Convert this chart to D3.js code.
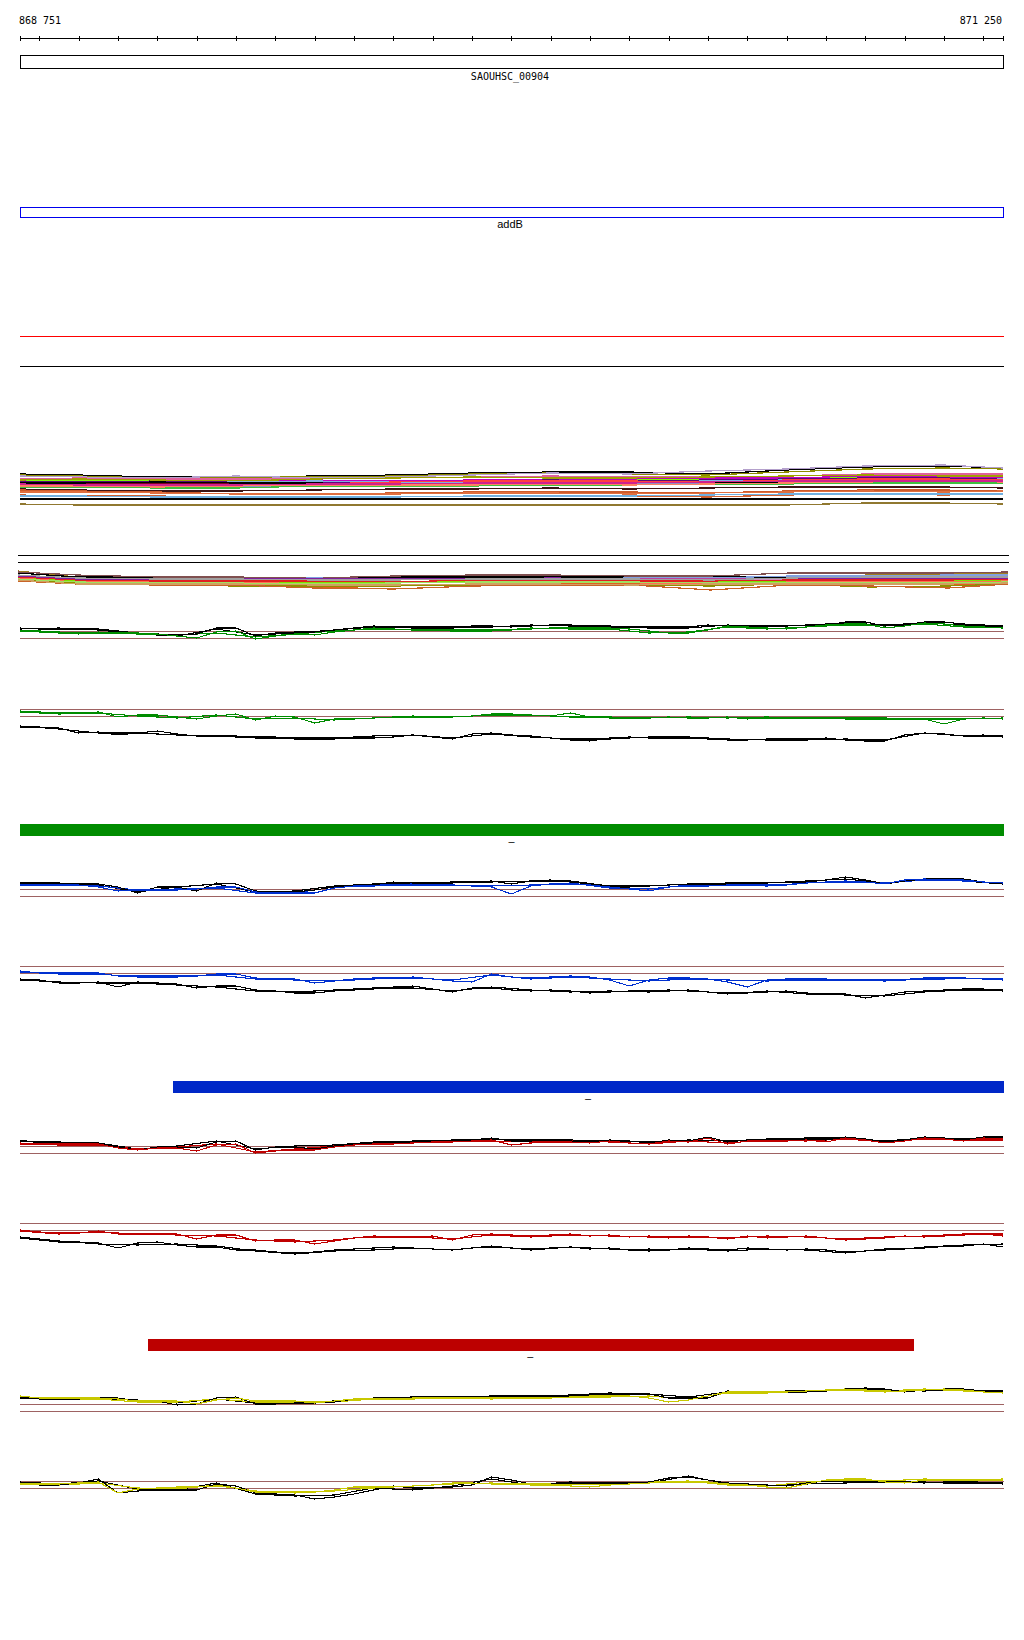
<!DOCTYPE html>
<html><head><meta charset="utf-8">
<script src="https://cdn.jsdelivr.net/npm/d3@7"></script>
<style>body{margin:0;background:#fff}</style>
</head><body><svg id="c" width="1024" height="1640"></svg>
<script>
// ---------------- DATA ----------------
const rangeStart = 868751, rangeEnd = 871250;
const tickPositions = [868800,868900,869000,869100,869200,869300,869400,869500,869600,869700,869800,869900,870000,870100,870200,870300,870400,870500,870600,870700,870800,870900,871000,871100,871200];
const geneTop = {name:"SAOUHSC_00904", start:868751, end:871250};
const geneMid = {name:"addB", start:868751, end:871250};
const featureBars = [
  {name:"–", start:868751, end:871250},
  {name:"–", start:869140, end:871250},
  {name:"–", start:869076, end:871021}
];
const refValues = [0.35, -0.35];

// 50-bp bins (51 points)
const positions = [868751,868800,868850,868900,868950,869000,869050,869100,869150,869200,869250,869300,869350,869400,869450,869500,869550,869600,869650,869700,869750,869800,869850,869900,869950,870000,870050,870100,870150,870200,870250,870300,870350,870400,870450,870500,870550,870600,870650,870700,870750,870800,870850,870900,870950,871000,871050,871100,871150,871200,871250];
// 200-bp bins for the multi-sample bands (14 points)
const bandPositions = [868751,868900,869100,869300,869500,869700,869900,870100,870300,870500,870700,870900,871100,871250];

// ---- green group ----
const greenA_black1 = [0.6,0.5,0.5,0.5,0.5,0.3,0.1,0.0,-0.1,0.0,0.6,0.6,-0.2,0.1,0.2,0.2,0.4,0.6,0.8,0.7,0.7,0.7,0.7,0.8,0.8,0.7,0.8,0.9,0.9,0.8,0.8,0.7,0.7,0.7,0.7,0.9,0.8,0.8,0.8,0.8,0.9,0.9,1.2,1.2,0.8,0.9,1.2,1.2,1.0,0.9,0.8];
const greenA_col1   = [0.3,0.3,0.2,0.0,0.2,0.1,0.1,0.0,-0.2,-0.4,0.2,0.3,-0.5,-0.2,0.0,-0.1,0.2,0.4,0.6,0.5,0.4,0.4,0.4,0.4,0.4,0.4,0.5,0.6,0.6,0.6,0.6,0.5,0.3,0.1,0.1,0.4,0.8,0.7,0.6,0.5,0.7,0.9,1.0,1.0,0.6,0.8,1.1,1.0,0.8,0.7,0.6];
const greenA_black2 = [0.5,0.6,0.4,0.0,-0.2,0.5,-0.1,0.1,0.4,0.7,0.6,0.6,0.7,0.9,0.8,0.7,0.6,0.6,0.9,0.7,0.9,1.1,0.9,1.1,0.9,0.7];
const greenA_col2   = [0.3,0.1,0.1,0.0,-0.1,0.1,-0.3,0.0,0.3,0.5,0.4,0.3,0.3,0.6,0.5,0.5,0.1,0.2,0.7,0.5,0.7,0.9,0.8,1.0,0.7,0.6];
const greenB_black1 = [-1.5,-1.5,-1.6,-2.1,-2.0,-2.3,-2.1,-1.9,-2.2,-2.4,-2.4,-2.4,-2.5,-2.5,-2.7,-2.7,-2.7,-2.6,-2.6,-2.5,-2.3,-2.5,-2.7,-2.2,-2.1,-2.3,-2.4,-2.6,-2.8,-2.9,-2.6,-2.5,-2.6,-2.6,-2.6,-2.7,-2.8,-2.8,-2.7,-2.7,-2.7,-2.6,-2.8,-2.9,-2.9,-2.3,-2.1,-2.2,-2.4,-2.3,-2.5];
const greenB_col1   = [0.1,0.0,-0.1,-0.1,0.0,-0.5,-0.3,-0.3,-0.5,-0.7,-0.4,-0.2,-0.8,-0.4,-0.5,-1.1,-0.7,-0.7,-0.6,-0.5,-0.4,-0.5,-0.5,-0.4,-0.2,-0.2,-0.3,-0.4,-0.1,-0.5,-0.6,-0.6,-0.6,-0.5,-0.6,-0.6,-0.5,-0.7,-0.6,-0.6,-0.6,-0.6,-0.7,-0.7,-0.7,-0.7,-0.7,-1.2,-0.7,-0.6,-0.7];
const greenB_black2 = [-1.4,-1.7,-2.1,-2.1,-2.3,-2.4,-2.6,-2.6,-2.6,-2.4,-2.3,-2.6,-2.2,-2.5,-2.7,-2.7,-2.5,-2.5,-2.7,-2.8,-2.8,-2.7,-2.8,-2.1,-2.4,-2.4];
const greenB_col2   = [0.0,-0.2,-0.1,-0.4,-0.6,-0.3,-0.7,-0.6,-0.8,-0.6,-0.5,-0.5,-0.3,-0.3,-0.5,-0.5,-0.6,-0.5,-0.6,-0.5,-0.6,-0.6,-0.6,-0.7,-0.7,-0.6];
// ---- blue group ----
const blueA_black1 = [0.9,0.8,0.8,0.8,0.8,0.5,-0.1,0.5,0.5,0.1,0.9,0.8,0.1,0.0,0.0,0.2,0.5,0.7,0.7,1.0,0.9,0.9,0.9,1.0,1.1,0.8,1.1,1.2,1.0,0.8,0.5,0.5,0.6,0.7,0.8,0.8,0.8,0.8,0.9,1.0,1.0,1.2,1.5,1.2,0.8,1.1,1.3,1.3,1.3,1.0,0.9];
const blueA_col1   = [0.7,0.7,0.7,0.7,0.5,0.1,0.2,0.2,0.2,0.3,0.5,0.5,0.0,-0.1,-0.1,-0.1,0.4,0.6,0.6,0.7,0.7,0.7,0.7,0.6,0.5,-0.2,0.6,0.8,0.8,0.7,0.5,0.3,0.1,0.5,0.6,0.6,0.7,0.7,0.7,0.7,0.9,1.0,1.1,1.0,0.8,1.2,1.3,1.2,1.2,1.0,0.9];
const blueA_black2 = [0.9,0.9,0.7,0.0,0.5,0.8,0.0,0.1,0.6,0.8,0.9,1.0,1.0,1.1,1.1,0.6,0.6,0.8,0.9,0.9,1.1,1.3,0.9,1.2,1.1,0.8];
const blueA_col2   = [0.8,0.7,0.6,0.2,0.3,0.4,-0.1,-0.1,0.5,0.7,0.8,0.7,0.6,0.7,0.9,0.4,0.3,0.7,0.7,0.6,0.9,1.0,0.9,1.2,1.1,0.9];
const blueB_black1 = [-1.0,-1.1,-1.4,-1.4,-1.3,-1.8,-1.3,-1.4,-1.5,-1.9,-1.7,-1.7,-2.1,-2.2,-2.4,-2.4,-2.2,-2.1,-2.0,-1.8,-1.7,-2.0,-2.3,-1.9,-1.9,-2.1,-2.2,-2.1,-2.2,-2.4,-2.3,-2.2,-2.2,-2.1,-2.2,-2.3,-2.4,-2.4,-2.3,-2.2,-2.4,-2.5,-2.5,-2.9,-2.6,-2.3,-2.2,-2.1,-2.0,-2.0,-2.2];
const blueB_col1   = [-0.2,-0.4,-0.4,-0.4,-0.4,-0.7,-0.7,-0.7,-0.7,-0.7,-0.5,-0.5,-0.9,-1.0,-1.0,-1.4,-1.2,-1.0,-0.9,-0.9,-0.8,-1.0,-1.2,-1.3,-0.5,-0.8,-0.9,-0.8,-0.7,-0.8,-1.1,-1.7,-1.1,-0.9,-0.9,-1.0,-1.3,-1.8,-1.1,-1.0,-1.0,-1.0,-1.1,-1.1,-1.1,-1.1,-1.0,-1.0,-0.9,-1.0,-1.1];
const blueB_black2 = [-1.1,-1.3,-1.4,-1.4,-1.6,-1.8,-2.2,-2.3,-2.1,-1.9,-1.9,-2.2,-1.8,-2.1,-2.3,-2.2,-2.3,-2.1,-2.5,-2.2,-2.5,-2.6,-2.7,-2.3,-2.1,-2.1];
const blueB_col2   = [-0.3,-0.5,-0.5,-0.8,-0.8,-0.6,-1.0,-1.1,-1.2,-1.0,-0.9,-1.1,-0.6,-1.0,-0.8,-1.0,-1.2,-1.0,-1.1,-1.2,-1.1,-1.1,-1.2,-0.9,-0.9,-1.0];
// ---- red group ----
const redA_black1 = [0.9,0.6,0.6,0.6,0.6,0.2,-0.1,0.2,0.2,0.1,0.7,0.8,-0.1,0.2,0.2,0.0,0.3,0.5,0.6,0.6,0.8,0.8,0.8,0.9,1.1,0.8,0.8,0.9,0.8,0.7,0.9,0.8,0.6,0.9,0.8,1.2,0.7,0.9,0.9,0.9,1.0,0.9,1.2,1.0,0.7,0.9,1.2,1.1,0.9,1.2,1.2];
const redA_col1   = [0.6,0.5,0.5,0.5,0.5,0.1,-0.1,0.1,0.1,-0.2,0.4,0.5,-0.4,-0.2,-0.1,-0.1,0.2,0.4,0.5,0.5,0.6,0.7,0.7,0.8,0.9,0.4,0.6,0.7,0.7,0.6,0.8,0.6,0.5,0.8,0.7,1.1,0.5,0.8,0.8,0.8,0.9,0.7,1.1,0.9,0.6,0.8,1.1,1.0,0.8,1.1,1.0];
const redA_black2 = [0.8,0.7,0.6,0.0,0.3,0.8,0.0,0.3,0.4,0.7,0.7,0.9,1.0,0.9,0.9,0.8,0.7,0.9,0.8,1.0,1.1,1.1,0.8,1.1,1.0,1.1];
const redA_col2   = [0.5,0.4,0.4,0.0,0.2,0.5,-0.3,0.0,0.3,0.5,0.6,0.8,0.8,0.7,0.8,0.7,0.5,0.8,0.6,0.9,0.8,1.0,0.7,1.0,0.9,0.9];
const redB_black1 = [-1.2,-1.4,-1.6,-1.6,-1.7,-2.2,-1.7,-1.6,-1.9,-2.1,-2.1,-2.4,-2.4,-2.6,-2.7,-2.6,-2.4,-2.3,-2.2,-2.1,-2.2,-2.3,-2.4,-2.2,-2.1,-2.2,-2.3,-2.2,-2.1,-2.3,-2.2,-2.4,-2.3,-2.4,-2.2,-2.3,-2.4,-2.2,-2.3,-2.4,-2.3,-2.4,-2.6,-2.5,-2.4,-2.3,-2.1,-2.0,-2.0,-1.8,-2.1];
const redB_col1   = [-0.4,-0.6,-0.7,-0.7,-0.5,-0.8,-0.8,-0.8,-0.8,-1.3,-0.9,-0.9,-1.5,-1.4,-1.4,-1.8,-1.5,-1.2,-1.1,-1.1,-1.1,-1.0,-1.4,-0.9,-0.8,-0.9,-1.0,-0.9,-0.8,-1.0,-0.9,-1.1,-1.0,-1.2,-1.0,-1.1,-1.3,-1.0,-1.2,-1.1,-1.0,-1.2,-1.4,-1.3,-1.2,-1.0,-1.1,-1.0,-0.9,-0.8,-1.0];
const redB_black2 = [-1.1,-1.5,-1.8,-1.9,-1.8,-2.0,-2.5,-2.8,-2.5,-2.4,-2.2,-2.4,-2.0,-2.4,-2.1,-2.3,-2.5,-2.3,-2.5,-2.3,-2.4,-2.7,-2.3,-2.2,-1.9,-1.8];
const redB_col2   = [-0.5,-0.8,-0.6,-0.8,-0.9,-1.0,-1.4,-1.6,-1.4,-1.0,-1.1,-1.3,-0.9,-1.1,-0.9,-1.0,-1.1,-1.1,-1.2,-1.0,-1.1,-1.3,-1.1,-1.0,-0.8,-0.8];
// ---- yellow group ----
const yelA_black1 = [1.0,0.8,0.8,0.8,0.9,0.9,0.6,0.6,0.2,0.3,0.9,1.0,0.3,0.3,0.4,0.4,0.5,0.8,0.8,0.8,0.9,1.0,1.0,1.0,1.0,1.0,1.0,1.0,1.1,1.2,1.3,1.3,1.3,0.9,0.9,0.9,1.6,1.5,1.5,1.6,1.6,1.6,1.8,1.9,1.8,1.5,1.7,1.8,1.8,1.6,1.5];
const yelA_col1   = [1.1,0.9,0.9,0.9,0.9,0.8,0.6,0.6,0.6,0.3,0.7,0.9,0.6,0.6,0.6,0.4,0.6,0.8,0.8,0.8,0.9,0.9,0.9,0.9,0.9,0.9,0.9,0.9,1.0,1.1,1.1,1.1,0.9,0.5,0.7,1.1,1.5,1.5,1.5,1.5,1.6,1.7,1.7,1.6,1.5,1.6,1.7,1.8,1.7,1.5,1.4];
const yelA_black2 = [0.9,0.8,0.8,0.7,0.4,0.8,0.4,0.5,0.6,0.9,1.0,1.0,1.1,1.1,1.2,1.4,1.3,1.0,1.5,1.5,1.5,1.7,1.7,1.6,1.7,1.6];
const yelA_col2   = [1.0,0.8,0.8,0.5,0.5,0.8,0.5,0.5,0.5,0.8,0.8,0.9,0.8,0.9,1.0,1.0,1.1,0.8,1.4,1.4,1.6,1.8,1.6,1.8,1.6,1.5];
const yelB_black1 = [0.1,-0.1,-0.1,0.1,0.5,-0.9,-0.7,-0.6,-0.6,-0.6,0.0,-0.2,-0.9,-1.0,-1.1,-1.5,-1.3,-1.0,-0.6,-0.2,-0.4,-0.4,-0.3,-0.1,0.7,0.4,0.0,0.0,0.1,0.1,0.1,0.1,0.2,0.6,0.7,0.4,0.1,0.0,-0.1,-0.2,0.1,0.3,0.2,0.2,0.2,0.2,0.2,0.1,0.1,0.1,0.1];
const yelB_col1   = [0.0,0.0,0.0,0.1,0.2,-0.9,-0.5,-0.4,-0.3,-0.3,-0.2,-0.4,-0.8,-0.8,-0.8,-0.8,-0.6,-0.3,-0.3,-0.3,-0.2,-0.1,0.1,0.1,0.0,0.0,0.0,0.0,-0.2,-0.3,-0.1,0.0,0.1,0.2,0.2,0.2,0.0,-0.1,-0.3,-0.4,0.0,0.4,0.5,0.5,0.2,0.1,0.4,0.4,0.4,0.4,0.4];
const yelB_black2 = [0.2,0.0,0.3,-0.5,-0.6,0.1,-1.0,-1.2,-1.1,-0.4,-0.6,-0.2,0.5,-0.1,0.2,0.0,0.1,0.8,0.0,-0.2,0.0,0.1,0.3,0.1,0.3,0.0];
const yelB_col2   = [0.1,-0.1,0.1,-0.4,-0.5,-0.1,-0.7,-0.9,-0.7,-0.4,-0.2,0.0,0.1,-0.1,-0.1,0.0,0.2,0.3,-0.1,-0.2,0.2,0.4,0.3,0.5,0.4,0.5];

// ---- multi-sample band 1 ----
const band1Colors = ["#000000","#8c8c00","#b4a0cc","#e0609a","#7cfc00","#c000c0","#5a0a78","#a0a000","#80b0e0","#ff4040","#800020","#000000","#9090c0","#40c040","#ff8060","#d02090","#3c1414","#cd5c2c","#e07040","#d06030","#70b0e0","#000000","#907830"];
const band1Values = [
 [1.2,1.1,0.9,0.9,1.0,1.1,1.3,1.4,1.4,1.2,1.6,1.9,2.0,1.8],
 [1.1,1.0,0.8,0.9,0.9,1.0,1.2,1.3,1.2,1.1,1.4,1.7,1.8,1.7],
 [1.0,0.9,0.8,1.0,0.8,0.9,1.1,1.3,1.2,1.5,1.7,2.0,2.1,1.8],
 [0.7,0.8,0.7,0.7,0.7,0.8,0.9,1.0,0.9,0.9,1.0,1.2,1.2,1.2],
 [0.5,0.6,0.5,0.2,0.4,0.5,0.6,0.7,0.6,0.7,0.8,0.9,1.0,0.9],
 [0.5,0.4,0.4,0.5,0.6,0.5,0.6,0.6,0.7,0.8,0.8,1.0,0.9,0.9],
 [0.4,0.4,0.5,0.4,0.4,0.3,0.5,0.6,0.5,0.6,0.7,0.8,0.8,0.7],
 [0.6,0.7,0.6,0.5,0.7,0.8,0.9,0.8,0.8,0.9,1.0,1.1,1.0,1.0],
 [0.2,0.2,0.3,0.4,0.5,0.4,0.4,0.5,0.4,0.5,0.6,0.7,0.6,0.7],
 [0.3,0.3,0.2,0.3,0.2,0.4,0.5,0.5,0.5,0.4,0.6,0.7,0.7,0.6],
 [0.1,0.2,0.2,0.2,0.1,0.2,0.3,0.3,0.2,0.3,0.4,0.4,0.5,0.4],
 [0.3,0.3,0.4,0.3,0.3,0.2,0.2,0.3,0.3,0.3,0.4,0.3,0.4,0.4],
 [0.0,0.1,0.0,-0.1,0.0,0.1,0.2,0.2,0.3,0.2,0.3,0.4,0.4,0.4],
 [-0.1,-0.1,-0.2,-0.2,0.0,0.0,0.0,0.1,0.1,0.2,0.2,0.3,0.3,0.3],
 [0.0,0.0,-0.1,0.0,0.1,0.1,0.1,0.2,0.1,0.2,0.3,0.4,0.5,0.4],
 [0.2,0.1,0.1,0.1,0.2,0.2,0.3,0.3,0.3,0.4,0.5,0.5,0.5,0.5],
 [-0.3,-0.4,-0.5,-0.5,-0.4,-0.3,-0.3,-0.2,-0.3,-0.2,-0.1,-0.1,-0.1,-0.2],
 [-0.4,-0.5,-0.6,-0.8,-0.8,-0.7,-0.6,-0.6,-0.6,-0.7,-0.5,-0.4,-0.4,-0.5],
 [-0.6,-0.6,-0.7,-0.8,-0.8,-0.8,-0.7,-0.7,-0.8,-0.7,-0.6,-0.5,-0.6,-0.5],
 [-0.9,-1.0,-1.0,-1.1,-1.1,-1.1,-1.0,-1.0,-1.0,-1.1,-0.9,-0.8,-0.9,-0.8],
 [-1.0,-1.0,-1.1,-1.1,-1.1,-1.1,-1.0,-1.0,-1.0,-0.9,-0.8,-0.8,-0.8,-0.8],
 [-1.3,-1.3,-1.3,-1.3,-1.3,-1.3,-1.3,-1.3,-1.3,-1.3,-1.3,-1.3,-1.3,-1.3],
 [-1.8,-1.9,-1.9,-1.9,-1.9,-1.9,-1.9,-1.9,-1.9,-1.9,-1.9,-1.7,-1.7,-1.8]
];
// ---- multi-sample band 2 ----
const band2Colors = ["#a08020","#000000","#805050","#80a0e0","#c040a0","#d090c0","#80e000","#ff7050","#e06020","#909000","#c86428","#e02020","#8020a0","#a0a0a0","#a0e060","#d0a060"];
const band2Values = [
 [1.0,0.4,0.3,0.3,0.3,0.3,0.3,0.4,0.3,0.3,0.4,0.6,0.7,0.8],
 [0.8,0.4,0.4,0.4,0.3,0.4,0.4,0.4,0.4,0.4,0.4,0.5,0.5,0.5],
 [0.9,0.6,0.4,0.4,0.3,0.5,0.6,0.6,0.5,0.5,0.8,0.8,0.8,0.9],
 [0.6,0.3,0.2,0.2,0.3,0.2,0.1,0.2,0.3,0.3,0.5,0.5,0.6,0.6],
 [0.5,0.2,0.1,0.1,0.1,0.1,0.2,0.2,0.2,0.2,0.2,0.3,0.3,0.4],
 [0.4,0.1,0.2,0.1,0.0,0.1,0.2,0.1,0.1,0.1,0.1,0.1,0.2,0.3],
 [0.3,0.0,-0.1,0.0,-0.2,-0.1,0.0,0.0,-0.1,-0.1,-0.1,-0.1,0.0,0.1],
 [0.3,-0.1,-0.1,-0.1,-0.3,-0.2,-0.1,-0.1,-0.2,-0.3,-0.1,-0.1,-0.1,0.0],
 [0.2,-0.2,-0.3,-0.4,-0.7,-0.5,-0.3,-0.2,-0.3,-0.4,-0.2,-0.3,-0.4,-0.2],
 [0.1,-0.2,-0.4,-0.5,-0.5,-0.5,-0.4,-0.3,-0.4,-0.5,-0.3,-0.6,-0.5,-0.3],
 [0.0,-0.3,-0.4,-0.4,-0.7,-0.8,-0.5,-0.4,-0.4,-0.9,-0.4,-0.5,-0.7,-0.3],
 [0.4,0.1,0.0,0.0,0.0,-0.1,0.1,0.1,0.0,0.0,0.1,0.1,0.1,0.2],
 [0.5,0.2,0.2,0.2,0.2,0.2,0.2,0.3,0.2,0.1,0.3,0.3,0.3,0.3],
 [0.6,0.3,0.2,0.2,0.1,0.1,0.2,0.2,0.2,0.1,0.3,0.4,0.4,0.4],
 [0.2,-0.1,-0.2,-0.2,-0.3,-0.2,-0.1,-0.1,-0.1,-0.2,-0.2,-0.2,-0.2,-0.1],
 [0.1,-0.3,-0.3,-0.3,-0.4,-0.4,-0.3,-0.3,-0.4,-0.3,-0.3,-0.3,-0.3,-0.2]
];

// ---------------- LAYOUT / STYLE ----------------
const svg = d3.select("#c");
const x = d3.scaleLinear().domain([rangeStart, rangeEnd]).range([20, 1003]);
const x2 = d3.scaleLinear().domain([rangeStart, rangeEnd]).range([18, 1008]);
const px = v => Math.round(v) + 0.5;
const fmt = d3.formatLocale({thousands:" ", grouping:[3], decimal:"."}).format(",");
const mono = "'DejaVu Sans Mono', monospace";

// ruler
svg.append("text").attr("x", 19).attr("y", 24).attr("font-family", mono).attr("font-size", 10)
  .text(fmt(rangeStart));
svg.append("text").attr("x", 1002).attr("y", 24).attr("text-anchor", "end").attr("font-family", mono).attr("font-size", 10)
  .text(fmt(rangeEnd));
svg.append("line").attr("x1", x(rangeStart)).attr("x2", x(rangeEnd)+1).attr("y1", 38.5).attr("y2", 38.5)
  .attr("stroke", "#000").attr("shape-rendering", "crispEdges");
svg.selectAll(".tick").data([rangeStart, ...tickPositions, rangeEnd]).join("line")
  .attr("x1", d => px(x(d))).attr("x2", d => px(x(d)))
  .attr("y1", 36).attr("y2", 41).attr("stroke", "#000").attr("shape-rendering", "crispEdges");

// gene boxes
svg.append("rect").attr("x", px(x(geneTop.start))).attr("y", 55.5)
  .attr("width", Math.round(x(geneTop.end) - x(geneTop.start))).attr("height", 13)
  .attr("fill", "none").attr("stroke", "#000").attr("shape-rendering", "crispEdges");
svg.append("text").attr("x", 510).attr("y", 79.5).attr("text-anchor", "middle")
  .attr("font-family", mono).attr("font-size", 10).text(geneTop.name);
svg.append("rect").attr("x", px(x(geneMid.start))).attr("y", 207.5)
  .attr("width", Math.round(x(geneMid.end) - x(geneMid.start))).attr("height", 10)
  .attr("fill", "none").attr("stroke", "#0000ee").attr("shape-rendering", "crispEdges");
svg.append("text").attr("x", 510).attr("y", 228).attr("text-anchor", "middle")
  .attr("font-family", "'Liberation Sans', Arial, sans-serif").attr("font-size", 11).text(geneMid.name);

// separator lines
svg.append("line").attr("x1", 20).attr("x2", 1004).attr("y1", 336.5).attr("y2", 336.5)
  .attr("stroke", "#ff0000").attr("shape-rendering", "crispEdges");
svg.append("line").attr("x1", 20).attr("x2", 1004).attr("y1", 366.5).attr("y2", 366.5)
  .attr("stroke", "#000").attr("shape-rendering", "crispEdges");
[555.5, 562.5].forEach(yy => svg.append("line").attr("x1", 18).attr("x2", 1009).attr("y1", yy).attr("y2", yy)
  .attr("stroke", "#000").attr("shape-rendering", "crispEdges"));

// bands
function drawBand(values, colors, xs, mid, pos) {
  const y = d3.scaleLinear().domain([-1, 1]).range([mid + 10, mid - 10]);
  const line = d3.line().x((d, i) => xs(pos[i])).y(d => y(d));
  const g = svg.append("g");
  values.forEach((vals, k) => {
    g.append("path").attr("d", line(vals)).attr("fill", "none")
      .attr("stroke", colors[k]).attr("stroke-width", 1.2).attr("shape-rendering", "crispEdges");
  });
}
drawBand(band1Values, band1Colors, x, 486, bandPositions);
drawBand(band2Values, band2Colors, x2, 581, bandPositions);

// two-colour tracks
const evenPositions = positions.filter((_, i) => i % 2 === 0);
function drawTrack(mid, color, b1, c1, b2, c2) {
  const y = d3.scaleLinear().domain([-1, 1]).range([mid + 10, mid - 10]);
  const g = svg.append("g");
  refValues.forEach(r => g.append("line").attr("x1", 20).attr("x2", 1004)
    .attr("y1", Math.round(y(r)) + 0.5).attr("y2", Math.round(y(r)) + 0.5)
    .attr("stroke", "#9e6262").attr("shape-rendering", "crispEdges"));
  const lineFull = d3.line().x((d, i) => x(positions[i])).y(d => y(d));
  const lineHalf = d3.line().x((d, i) => x(evenPositions[i])).y(d => y(d));
  [[b2, "#000", lineHalf], [c2, color, lineHalf], [b1, "#000", lineFull], [c1, color, lineFull]].forEach(([vals, col, ln]) => {
    g.append("path").attr("d", ln(vals)).attr("fill", "none").attr("stroke", col)
      .attr("stroke-width", 1.1).attr("shape-rendering", "crispEdges");
  });
}
const green = "#008c00", blue = "#0030d0", red = "#c00000", yellow = "#c8c800";
drawTrack(634, green, greenA_black1, greenA_col1, greenA_black2, greenA_col2);
drawTrack(712, green, greenB_black1, greenB_col1, greenB_black2, greenB_col2);
drawTrack(892, blue, blueA_black1, blueA_col1, blueA_black2, blueA_col2);
drawTrack(969, blue, blueB_black1, blueB_col1, blueB_black2, blueB_col2);
drawTrack(1149, red, redA_black1, redA_col1, redA_black2, redA_col2);
drawTrack(1226, red, redB_black1, redB_col1, redB_black2, redB_col2);
drawTrack(1407, yellow, yelA_black1, yelA_col1, yelA_black2, yelA_col2);
drawTrack(1484, yellow, yelB_black1, yelB_col1, yelB_black2, yelB_col2);

// feature bars
const barY = [824, 1081, 1339];
const barColors = ["#008c00", "#0028c8", "#bc0000"];
featureBars.forEach((f, i) => {
  svg.append("rect").attr("x", Math.round(x(f.start))).attr("y", barY[i])
    .attr("width", Math.round(x(f.end)) - Math.round(x(f.start)) + 1).attr("height", 12)
    .attr("fill", barColors[i]).attr("shape-rendering", "crispEdges");
  svg.append("text").attr("x", (x(f.start) + x(f.end)) / 2).attr("y", barY[i] + 21)
    .attr("text-anchor", "middle").attr("font-family", mono).attr("font-size", 10).text(f.name);
});
</script>
</body></html>
